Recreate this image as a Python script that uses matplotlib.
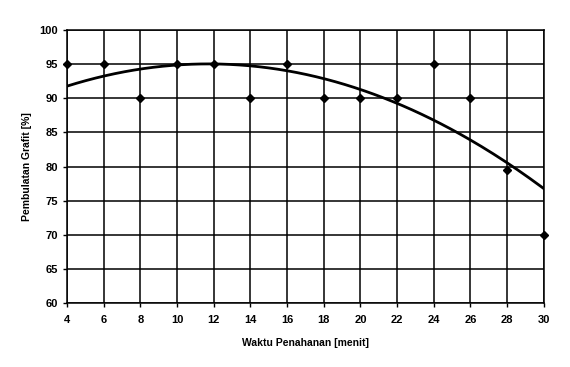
import numpy as np
import matplotlib
matplotlib.use("Agg")
import matplotlib.pyplot as plt

# data
waktu = [4, 6, 8, 10, 12, 14, 16, 18, 20, 22, 24, 26, 28, 30]
pembulatan = [95, 95, 90, 95, 95, 90, 95, 90, 90, 90, 95, 90, 79.5, 70]

plt.rcParams['font.family'] = ['Liberation Sans', 'DejaVu Sans']

fig = plt.figure(figsize=(5.7, 3.67), dpi=100)
ax = fig.add_axes([0.1175, 0.1744, 0.8365, 0.7436])

# polynomial (order 2) trendline, as in the original spreadsheet chart
koef = np.polyfit(waktu, pembulatan, 2)
xs = np.linspace(4, 30, 200)
ax.plot(xs, np.polyval(koef, xs), color='black', lw=2.0, zorder=3)

ax.plot(waktu, pembulatan, 'D', color='black', ms=3.8, zorder=4, clip_on=False)

ax.set_xlim(4, 30)
ax.set_ylim(60, 100)
ax.set_xticks(range(4, 31, 2))
ax.set_yticks(range(60, 101, 5))
ax.grid(True, color='black', lw=1.1)
for s in ax.spines.values():
    s.set_color('black')
    s.set_linewidth(1.1)
ax.tick_params(labelsize=8, length=3, width=1, colors='black')
ax.tick_params(axis='x', pad=6)
for t in ax.get_xticklabels() + ax.get_yticklabels():
    t.set_fontweight('bold')
ax.set_xlabel('Waktu Penahanan [menit]', fontsize=7.5, fontweight='bold', labelpad=9)
ax.set_ylabel('Pembulatan Grafit [%]', fontsize=7.5, fontweight='bold', labelpad=5)

fig.savefig('out.png', dpi=100)
